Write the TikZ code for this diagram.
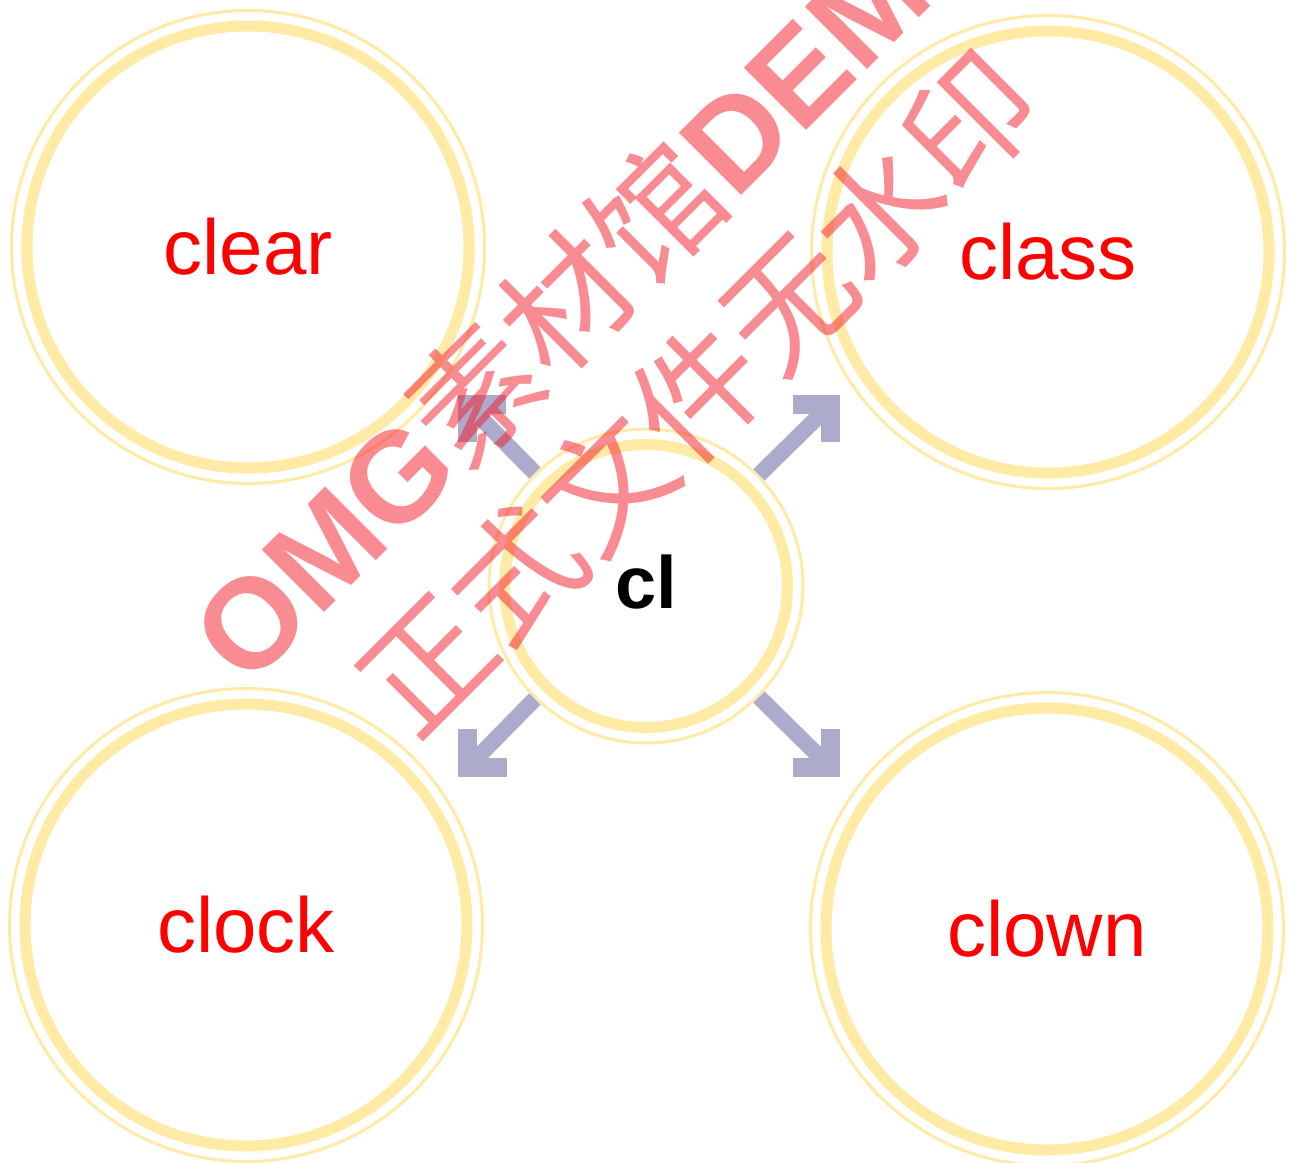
\documentclass[tikz,border=0pt]{standalone}
\usepackage{fontspec}
\setmainfont{Liberation Sans}
\newfontfamily\cjkfont{Noto Sans CJK SC}
\definecolor{ring}{RGB}{255,234,166}
\definecolor{arrowc}{RGB}{173,171,203}
\definecolor{wmark}{RGB}{245,25,39}
\begin{document}
\begin{tikzpicture}[x=1pt,y=-1pt,
  word/.style={circle, draw=ring, line width=3pt, inner sep=0pt, minimum size=473pt,
    text=red, font=\fontsize{78}{80}\selectfont},
  hub/.style={circle, draw=ring, line width=3pt, inner sep=0pt, minimum size=314pt,
    text=black, font=\fontsize{74}{76}\selectfont\bfseries},
  thickring/.style={draw=ring, line width=11pt},
  shaft/.style={draw=arrowc, line width=16pt},
  headL/.style={draw=arrowc, line width=19pt, line join=miter},
  wm/.style={text=wmark, text opacity=0.5, rotate=45, align=center,
    font=\fontsize{128}{157}\selectfont}
]
\useasboundingbox[fill=white] (0,0) rectangle (1289,1162);

% outer nodes
\node[word] (clear) at (248,247) {clear};
\node[word] (class) at (1048,252) {class};
\node[word] (clock) at (246,925) {clock};
\node[word] (clown) at (1047,929) {clown};
\node[hub]  (cl)    at (646,586) {\raisebox{-22pt}[0pt][0pt]{cl}};

\foreach \n in {clear,class,clock,clown}
  \draw[thickring] (\n.center) circle[radius=221];
\draw[thickring] (cl.center) circle[radius=141.5];

% arrow shaft end points
\coordinate (tlS) at (466,403);
\coordinate (trS) at (830,405);
\coordinate (blS) at (466,769);
\coordinate (brS) at (830,767);

\draw[shaft] (cl) -- (tlS);
\draw[shaft] (cl) -- (trS);
\draw[shaft] (cl) -- (blS);
\draw[shaft] (cl) -- (brS);

% arrow heads
\draw[headL] (506,404.5) -- (467.5,404.5) -- (467.5,442);
\draw[headL] (793,404.5) -- (830.5,404.5) -- (830.5,442);
\draw[headL] (467.5,729) -- (467.5,767.5) -- (507,767.5);
\draw[headL] (830.5,729) -- (830.5,767.5) -- (793,767.5);

% watermark
\node[wm] (wmk) at (642,337) {\hspace*{18pt}{\bfseries OMG}{\cjkfont 素材馆}{\bfseries DEMO}\\{\cjkfont 正式文件无水印}};
\end{tikzpicture}
\end{document}
